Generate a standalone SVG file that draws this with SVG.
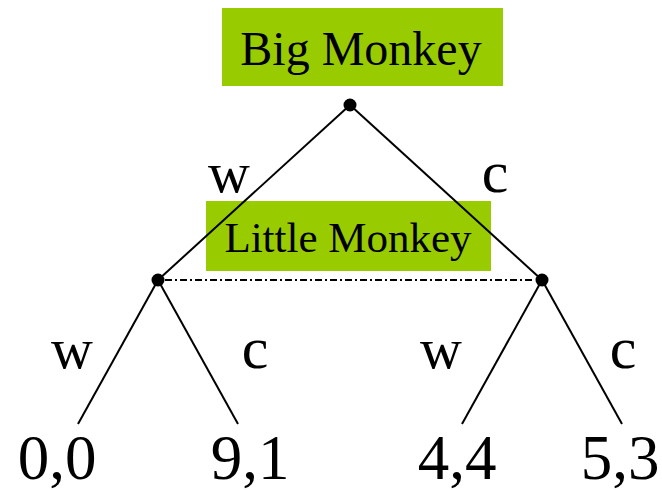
<svg xmlns="http://www.w3.org/2000/svg" width="662" height="490" viewBox="0 0 662 490">
  <style>
    .label { fill: #99cc00; }
    .serif { font-family: "Liberation Serif", "Times New Roman", serif; fill: #000; }
    .edge { stroke: #000; stroke-width: 2; fill: none; }
    .info { stroke: #000; stroke-width: 2; stroke-dasharray: 7 3 2 3; fill: none; }
    .dot { fill: #000; }
  </style>

  <!-- Little Monkey information set label (branches run over it) -->
  <g id="little-monkey">
    <rect class="label" x="206" y="201" width="285" height="70"/>
    <text class="serif" x="348" y="252" font-size="43" text-anchor="middle">Little Monkey</text>
  </g>

  <!-- tree branches -->
  <g id="connectors">
    <line class="edge" x1="350" y1="105" x2="158" y2="280"/>
    <line class="edge" x1="350" y1="105" x2="542" y2="280"/>
    <line class="edge" x1="158" y1="280" x2="78" y2="424"/>
    <line class="edge" x1="158" y1="280" x2="238" y2="424"/>
    <line class="edge" x1="542" y1="280" x2="462" y2="424"/>
    <line class="edge" x1="542" y1="280" x2="622" y2="424"/>
    <line class="info" x1="165" y1="280" x2="535" y2="280"/>
    <!-- move labels -->
    <text class="serif" x="229" y="192" font-size="58" text-anchor="middle">w</text>
    <text class="serif" x="495" y="192" font-size="60" text-anchor="middle">c</text>
    <text class="serif" x="72" y="368" font-size="58" text-anchor="middle">w</text>
    <text class="serif" x="255" y="368" font-size="60" text-anchor="middle">c</text>
    <text class="serif" x="441" y="368" font-size="58" text-anchor="middle">w</text>
    <text class="serif" x="623" y="368" font-size="60" text-anchor="middle">c</text>
  </g>

  <!-- Big Monkey decision node -->
  <g id="big-monkey">
    <rect class="label" x="222" y="8" width="281" height="78"/>
    <text class="serif" x="361" y="65" font-size="48" text-anchor="middle">Big Monkey</text>
    <circle class="dot" cx="350" cy="105" r="6.5"/>
  </g>

  <g id="node-left">
    <circle class="dot" cx="158" cy="280" r="6.5"/>
  </g>
  <g id="node-right">
    <circle class="dot" cx="542" cy="280" r="6.5"/>
  </g>

  <!-- payoffs -->
  <g id="payoff-ww"><text class="serif" x="57" y="479" font-size="63" text-anchor="middle">0,0</text></g>
  <g id="payoff-wc"><text class="serif" x="250" y="479" font-size="63" text-anchor="middle">9,1</text></g>
  <g id="payoff-cw"><text class="serif" x="457" y="479" font-size="63" text-anchor="middle">4,4</text></g>
  <g id="payoff-cc"><text class="serif" x="620" y="479" font-size="63" text-anchor="middle">5,3</text></g>
</svg>
